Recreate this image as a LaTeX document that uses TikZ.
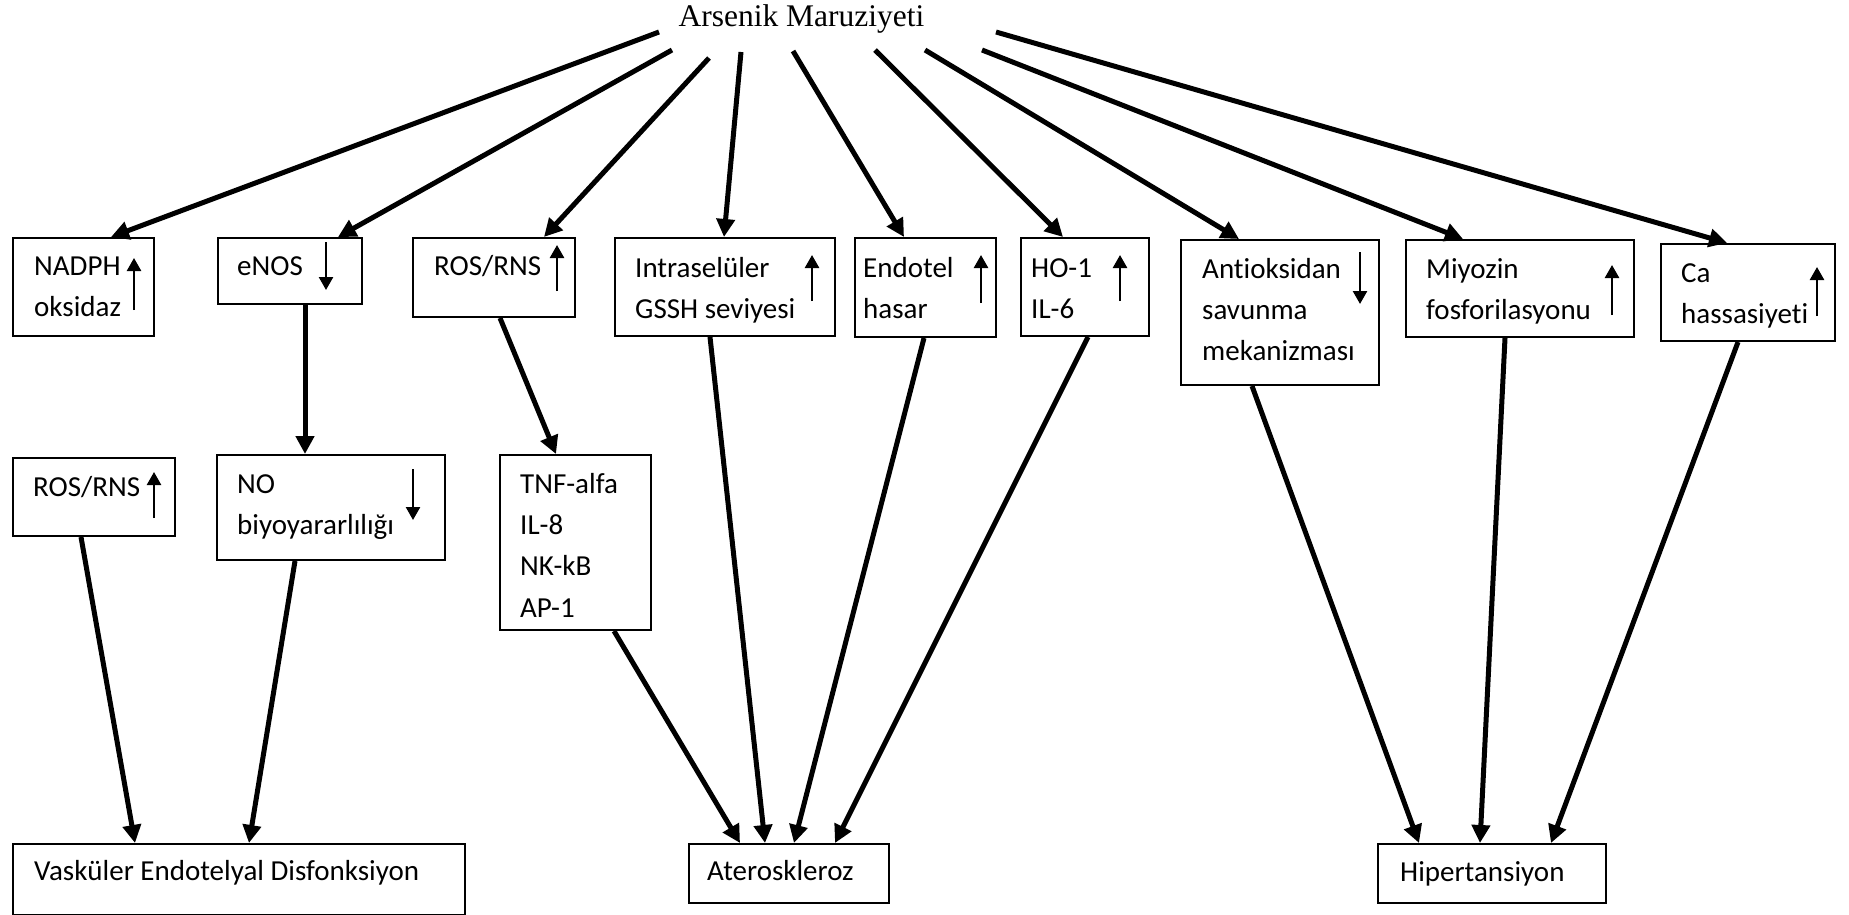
\documentclass[tikz,border=0pt]{standalone}
\usepackage{fontspec}
\setmainfont{Carlito}[Ligatures=NoCommon]
\newfontfamily\timesfam{Liberation Serif}
\usetikzlibrary{arrows.meta}
\newcommand\firstln{\rule{0pt}{30pt}}
\begin{document}
\begin{tikzpicture}[x=1pt,y=-1pt,
  box/.style={draw, line width=2pt, anchor=north west, inner sep=0pt},
  txt/.style={anchor=north west, inner sep=0pt, align=left, font=\fontsize{29}{41.3}\selectfont},
  arr/.style={line width=5pt, -{Triangle[length=18pt,width=18pt]}},
  sarr/.style={line width=2.5pt, -{Triangle[length=13pt,width=14pt]}}]
\useasboundingbox (0,0) rectangle (1849,915);

% title
\node[anchor=base, inner sep=0pt, font=\timesfam\fontsize{31.5}{36}\selectfont] (title) at (801.5,27) {Arsenik Maruziyeti};

% row 1 boxes
\node[box, minimum width=141pt, minimum height=98pt] (nadph) at (12,237) {};
\node[box, minimum width=144pt, minimum height=66pt] (enos) at (217,237) {};
\node[box, minimum width=162pt, minimum height=79pt] (ros1) at (412,237) {};
\node[box, minimum width=220pt, minimum height=98pt] (intra) at (614,237) {};
\node[box, minimum width=141pt, minimum height=99pt] (endo) at (854,237) {};
\node[box, minimum width=128pt, minimum height=98pt] (ho) at (1020,237) {};
\node[box, minimum width=198pt, minimum height=145pt] (anti) at (1180,239) {};
\node[box, minimum width=228pt, minimum height=97pt] (miyo) at (1405,239) {};
\node[box, minimum width=174pt, minimum height=97pt] (ca) at (1660,243) {};
% row 2 boxes
\node[box, minimum width=162pt, minimum height=78pt] (ros2) at (12,457) {};
\node[box, minimum width=228pt, minimum height=105pt] (no) at (216,454) {};
\node[box, minimum width=151pt, minimum height=175pt] (tnf) at (499,454) {};
% bottom boxes
\node[box, minimum width=452pt, minimum height=71pt] (vas) at (12,843) {};
\node[box, minimum width=200pt, minimum height=59pt] (ater) at (688,843) {};
\node[box, minimum width=228pt, minimum height=59pt] (hip) at (1377,843) {};

% texts
\node[txt] (nadph-t) at (34,245) {\firstln NADPH\\oksidaz};
\node[txt] (enos-t) at (237,245) {\firstln eNOS};
\node[txt] (ros1-t) at (434,245) {\firstln ROS/RNS};
\node[txt] (intra-t) at (635,247) {\firstln Intraselüler\\GSSH seviyesi};
\node[txt] (endo-t) at (863,247) {\firstln Endotel\\hasar};
\node[txt] (ho-t) at (1031,247) {\firstln HO-1\\IL-6};
\node[txt] (anti-t) at (1202,248) {\firstln Antioksidan\\savunma\\mekanizması};
\node[txt] (miyo-t) at (1426,248) {\firstln Miyozin\\fosforilasyonu};
\node[txt] (ca-t) at (1681,252) {\firstln Ca\\hassasiyeti};
\node[txt] (ros2-t) at (33,466) {\firstln ROS/RNS};
\node[txt] (no-t) at (237,463) {\firstln NO\\biyoyararlılığı};
\node[txt] (tnf-t) at (520,463) {\firstln TNF-alfa\\IL-8\\NK-kB\\AP-1};
\node[txt] (vas-t) at (34,850) {\firstln Vasküler Endotelyal Disfonksiyon};
\node[txt] (ater-t) at (707,850) {\firstln Ateroskleroz};
\node[txt] (hip-t) at (1400,851) {\firstln Hipertansiyon};

% tails near title
\coordinate (t1) at (659,32);
\coordinate (t2) at (672,50);
\coordinate (t3) at (709,58);
\coordinate (t4) at (741,52);
\coordinate (t5) at (793,51);
\coordinate (t6) at (875,50);
\coordinate (t7) at (925,50);
\coordinate (t8) at (982,50);
\coordinate (t9) at (996,32);

\draw[arr] (t1) -- ([xshift=99pt]nadph.north west);
\draw[arr] (t2) -- ([xshift=121pt]enos.north west);
\draw[arr] (t3) -- ([xshift=132pt]ros1.north west);
\draw[arr] (t4) -- ([xshift=110pt]intra.north west);
\draw[arr] (t5) -- ([xshift=50pt]endo.north west);
\draw[arr] (t6) -- ([xshift=43pt]ho.north west);
\draw[arr] (t7) -- ([xshift=59pt]anti.north west);
\draw[arr] (t8) -- ([xshift=58pt]miyo.north west);
\draw[arr] (t9) -- ([xshift=67pt]ca.north west);

% lower connectors
\draw[arr] ([xshift=88pt]enos.south west) -- ([xshift=89pt]no.north west);
\draw[arr] ([xshift=88pt]ros1.south west) -- ([xshift=57pt]tnf.north west);
\draw[arr] ([xshift=69pt]ros2.south west) -- ([xshift=123pt]vas.north west);
\draw[arr] ([xshift=79pt]no.south west) -- ([xshift=237pt]vas.north west);
\draw[arr] ([xshift=115pt]tnf.south west) -- ([xshift=52pt]ater.north west);
\draw[arr] ([xshift=96pt]intra.south west) -- ([xshift=77pt]ater.north west);
\draw[arr] ([xshift=70pt]endo.south west) -- ([xshift=106pt]ater.north west);
\draw[arr] ([xshift=68pt]ho.south west) -- ([xshift=147pt]ater.north west);
\draw[arr] ([xshift=72pt]anti.south west) -- ([xshift=42pt]hip.north west);
\draw[arr] ([xshift=100pt]miyo.south west) -- ([xshift=103pt]hip.north west);
\draw[arr] ([xshift=78pt]ca.south west) -- ([xshift=174pt]hip.north west);

% small up/down arrows
\draw[sarr] (134,310) -- (134,258);
\draw[sarr] (326,242) -- (326,290);
\draw[sarr] (557,291) -- (557,245);
\draw[sarr] (154,518) -- (154,472);
\draw[sarr] (413,469) -- (413,520);
\draw[sarr] (812,301) -- (812,255);
\draw[sarr] (981,303) -- (981,255);
\draw[sarr] (1120,301) -- (1120,255);
\draw[sarr] (1360,252) -- (1360,304);
\draw[sarr] (1612,315) -- (1612,265);
\draw[sarr] (1817,316) -- (1817,267);
\end{tikzpicture}
\end{document}
